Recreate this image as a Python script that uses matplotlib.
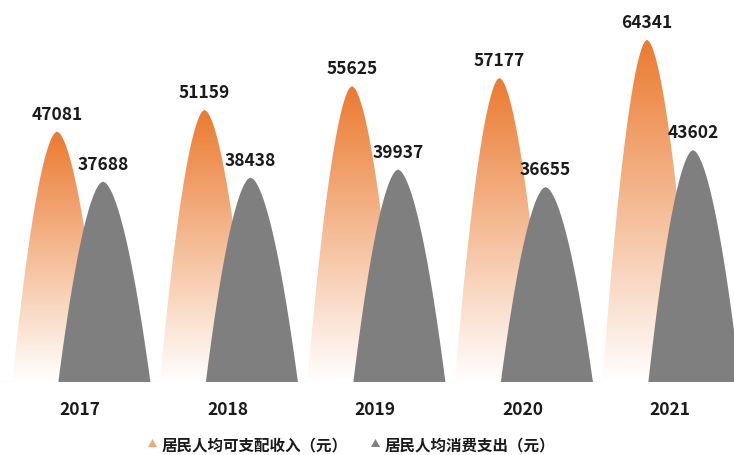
import numpy as np
import matplotlib
matplotlib.use("Agg")
import matplotlib.pyplot as plt
from matplotlib.patches import Polygon

plt.rcParams['font.family'] = ['Noto Sans CJK SC', 'DejaVu Sans']

# ── Data ──────────────────────────────────────────────────────────────────────
years       = ["2017", "2018", "2019", "2020", "2021"]
income      = [47081, 51159, 55625, 57177, 64341]   # 居民人均可支配收入（元）
consumption = [37688, 38438, 39937, 36655, 43602]   # 居民人均消费支出（元）
series_names = ["居民人均可支配收入（元）", "居民人均消费支出（元）"]

ORANGE = "#EB7A2F"
GRAY   = "#7F7F7F"
TEXT   = "#1A1A1A"

BAR_W  = 0.624    # mountain base width (category units)
OFFSET = 0.156    # shift of each series from category centre


def mountain_xy(xc, h, w=BAR_W, n=160):
    """Outline of a rounded 'mountain' of height h, peak at xc."""
    f = np.linspace(0, 1, n)                 # 0 = peak, 1 = base
    shape = f ** 0.58
    y = h * (1 - f)
    left = np.column_stack([xc - 0.97 * (w / 2) * shape, y])[::-1]
    right = np.column_stack([xc + 1.03 * (w / 2) * shape, y])
    return np.vstack([left, right[1:]])


fig = plt.figure(figsize=(7.34, 4.56), dpi=100)
ax = fig.add_axes([0, 73 / 456, 1, 1 - 73 / 456])

# vertical gradient: orange at top -> white at bottom
grad = np.linspace(1, 0, 256).reshape(-1, 1)
c_top = np.array(matplotlib.colors.to_rgb(ORANGE))
c_bot = np.array([1.0, 1.0, 1.0])
grad_img = (c_bot + (c_top - c_bot) * grad[..., None]).reshape(256, 1, 3)

for i, (v_in, v_out) in enumerate(zip(income, consumption)):
    # income mountain (gradient)
    xc = i - OFFSET
    poly = Polygon(mountain_xy(xc, v_in), closed=True, facecolor="none",
                   edgecolor="none")
    ax.add_patch(poly)
    im = ax.imshow(grad_img, extent=[xc - BAR_W / 2, xc + BAR_W / 2, 0, v_in],
                   aspect="auto", origin="upper", zorder=2, interpolation="bilinear")
    im.set_clip_path(poly)

    # consumption mountain (solid gray, in front)
    xc2 = i + OFFSET
    ax.add_patch(Polygon(mountain_xy(xc2, v_out), closed=True,
                         facecolor=GRAY, edgecolor="none", zorder=3))

    # value labels
    ax.annotate(f"{v_in}", (xc, v_in), xytext=(0, 13), textcoords="offset pixels",
                ha="center", va="baseline", fontsize=12.5, fontweight="bold",
                color=TEXT, zorder=5)
    ax.annotate(f"{v_out}", (xc2, v_out), xytext=(0, 13), textcoords="offset pixels",
                ha="center", va="baseline", fontsize=12.5, fontweight="bold",
                color=TEXT, zorder=5)

    # category labels
    ax.annotate(years[i], (i, 0), xytext=(0, -32), textcoords="offset pixels",
                ha="center", va="baseline", fontsize=12.5, fontweight="bold",
                color=TEXT, annotation_clip=False)

ax.axhline(0, color="#E8E8E8", lw=1, zorder=1)

ax.set_xlim(-80 / 147.5, (734 - 80) / 147.5)
ax.set_ylim(0, 72000)
ax.axis("off")

# ── Legend (drawn by hand) ────────────────────────────────────────────────────
def fx(px):
    return px / 734


def fy(py):
    return 1 - py / 456


for x0, col, label in [(148, "#F3A676", series_names[0]),
                       (371, GRAY, series_names[1])]:
    tri = Polygon([(fx(x0), fy(448)), (fx(x0 + 4.5), fy(440)), (fx(x0 + 9), fy(448))],
                  closed=True, transform=fig.transFigure, facecolor=col,
                  edgecolor="none")
    fig.add_artist(tri)
    fig.text(fx(x0 + 14), fy(445.5), label, ha="left", va="center",
             fontsize=11.2, fontweight="bold", color=TEXT)

fig.savefig("out.png", dpi=100)
